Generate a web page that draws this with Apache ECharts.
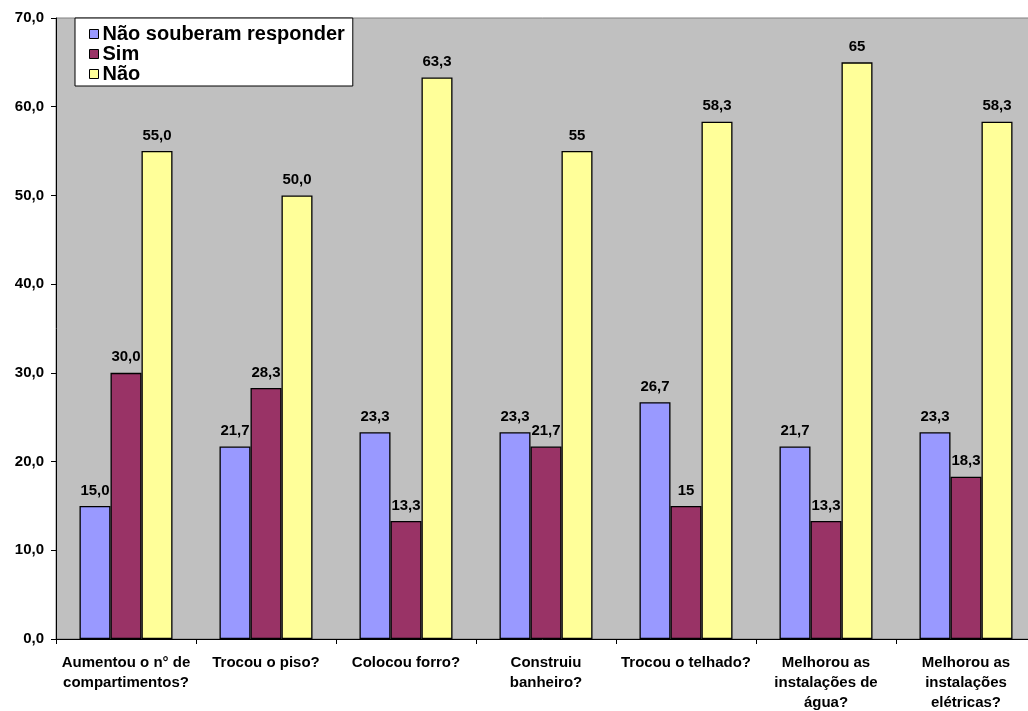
<!DOCTYPE html>
<html>
<head>
<meta charset="utf-8">
<style>
  html, body { margin: 0; padding: 0; background: #ffffff; overflow: hidden; }
  #chart { width: 1028px; height: 711px; }
</style>
<script src="https://cdn.jsdelivr.net/npm/echarts@6/dist/echarts.min.js"></script>
</head>
<body>
<div id="chart"></div>
<script>
// Perguntas sobre melhorias na moradia (%)
const categories = [
  'Aumentou o n° de\ncompartimentos?',
  'Trocou o piso?',
  'Colocou forro?',
  'Construiu\nbanheiro?',
  'Trocou o telhado?',
  'Melhorou as\ninstalações de\nágua?',
  'Melhorou as\ninstalações\nelétricas?'
];

// Valores como aparecem nos rótulos (vírgula decimal)
const naoSouberam = ['15,0', '21,7', '23,3', '23,3', '26,7', '21,7', '23,3'];
const sim         = ['30,0', '28,3', '13,3', '21,7', '15',   '13,3', '18,3'];
const nao         = ['55,0', '50,0', '63,3', '55',   '58,3', '65',   '58,3'];

const yTicks = { min: 0, max: 70, interval: 10 };

const FONT = 'Arial, "Liberation Sans", sans-serif';

function toPoints(labels) {
  return labels.map(function (s) {
    return { value: parseFloat(s.replace(',', '.')), labelText: s };
  });
}

function barSeries(name, labels, color) {
  return {
    name: name,
    type: 'bar',
    barWidth: 31,
    barGap: '0%',
    data: toPoints(labels),
    itemStyle: { color: color, borderColor: '#000000', borderWidth: 1.3 },
    label: {
      show: true,
      position: 'top',
      distance: 8,
      color: '#000000',
      fontFamily: FONT,
      fontWeight: 'bold',
      fontSize: 15,
      formatter: function (p) { return p.data.labelText; }
    }
  };
}

const chart = echarts.init(document.getElementById('chart'), null, { renderer: 'canvas' });

chart.setOption({
  animation: false,
  backgroundColor: '#ffffff',
  textStyle: { fontFamily: FONT },
  // plot area runs slightly past the right edge of the canvas
  grid: {
    left: 56,
    width: 980,
    top: 18,
    bottom: 72,
    outerBoundsMode: 'none',
    containLabel: false,
    show: true,
    backgroundColor: '#C0C0C0',
    borderColor: '#808080',
    borderWidth: 1
  },
  legend: {
    orient: 'vertical',
    left: 75,
    top: 18,
    width: 276,
    padding: [6, 8, 2, 14],
    backgroundColor: '#ffffff',
    borderColor: '#000000',
    borderWidth: 1,
    itemWidth: 9,
    itemHeight: 9,
    itemGap: 0,
    icon: 'rect',
    itemStyle: { borderColor: '#000000', borderWidth: 1 },
    textStyle: {
      color: '#000000',
      fontFamily: FONT,
      fontWeight: 'bold',
      fontSize: 20,
      lineHeight: 20,
      padding: [0, 0, 0, -1]
    },
    data: ['Não souberam responder', 'Sim', 'Não']
  },
  xAxis: {
    type: 'category',
    data: categories,
    axisLine: { show: true, lineStyle: { color: '#000000', width: 1 } },
    axisTick: { show: true, length: 5, lineStyle: { color: '#000000' } },
    axisLabel: {
      color: '#000000',
      fontFamily: FONT,
      fontWeight: 'bold',
      fontSize: 15,
      lineHeight: 20,
      margin: 14,
      interval: 0,
      align: 'center'
    },
    splitLine: { show: false }
  },
  yAxis: {
    type: 'value',
    min: yTicks.min,
    max: yTicks.max,
    interval: yTicks.interval,
    axisLine: { show: true, lineStyle: { color: '#000000', width: 1 } },
    axisTick: { show: true, length: 5, lineStyle: { color: '#000000' } },
    axisLabel: {
      color: '#000000',
      fontFamily: FONT,
      fontWeight: 'bold',
      fontSize: 15,
      margin: 12,
      formatter: function (v) { return v.toFixed(1).replace('.', ','); }
    },
    splitLine: { show: false }
  },
  series: [
    barSeries('Não souberam responder', naoSouberam, '#9999FF'),
    barSeries('Sim', sim, '#993366'),
    barSeries('Não', nao, '#FFFF99')
  ]
});
</script>
</body>
</html>
